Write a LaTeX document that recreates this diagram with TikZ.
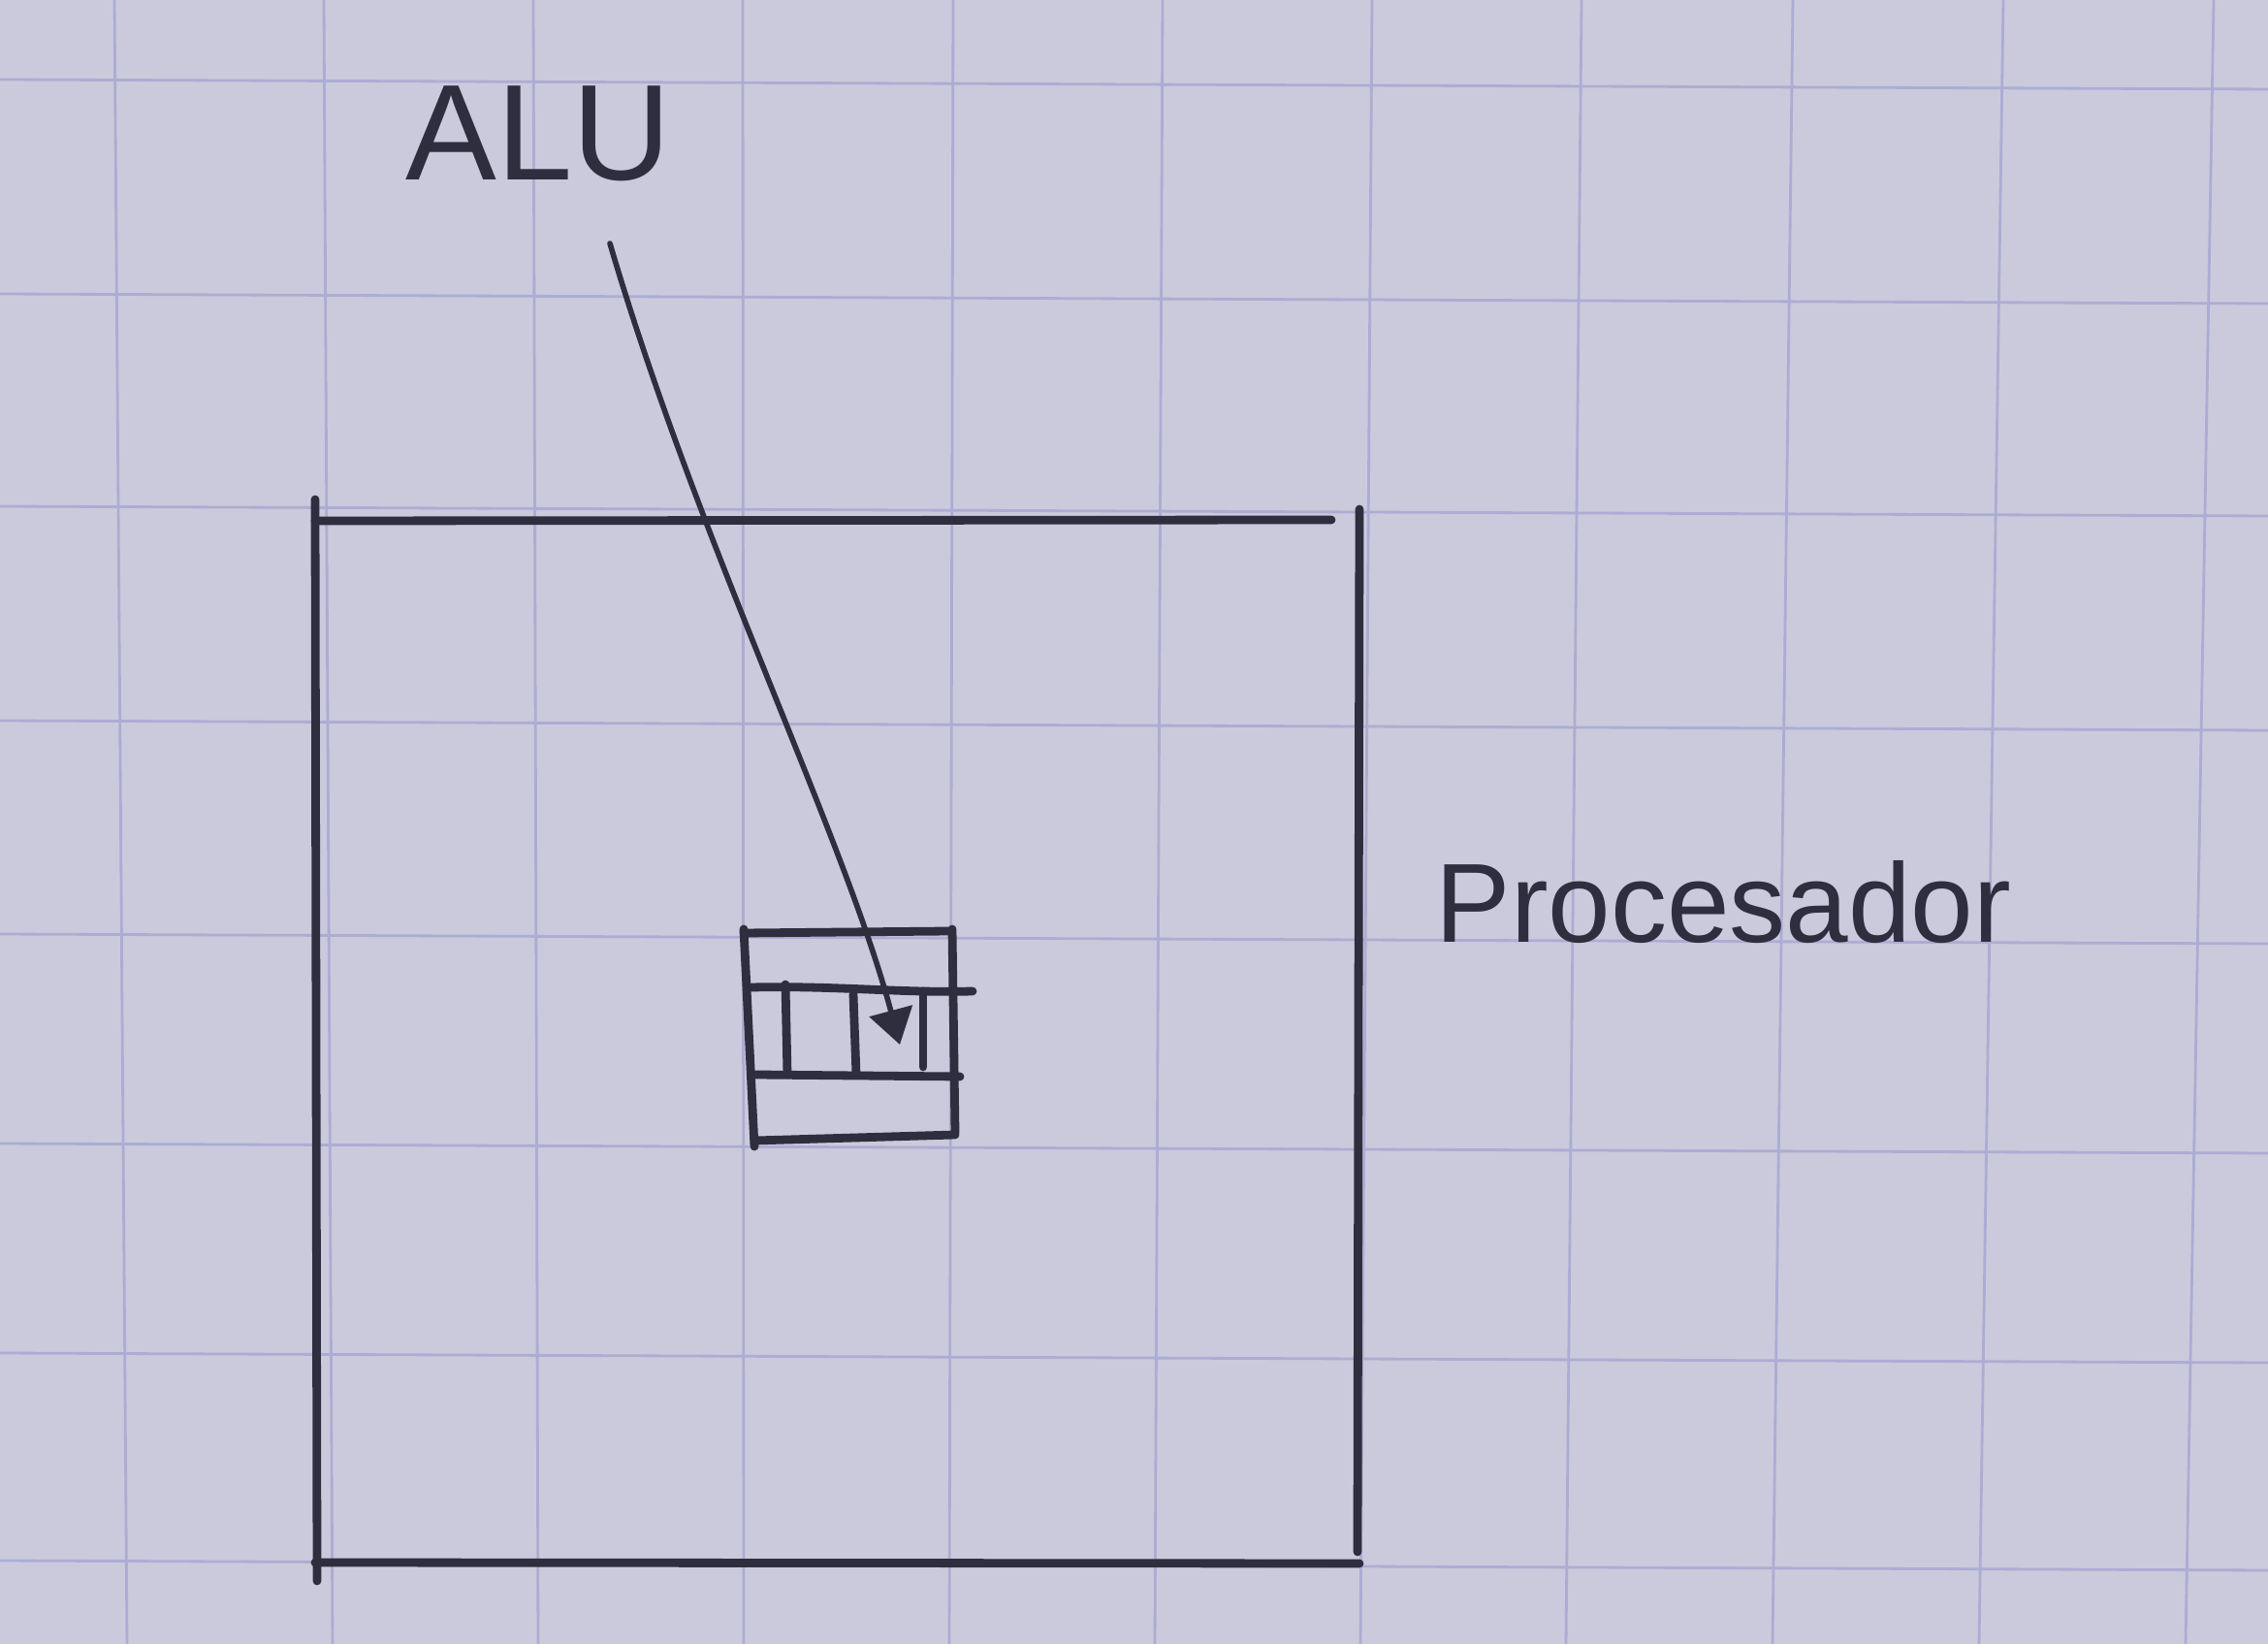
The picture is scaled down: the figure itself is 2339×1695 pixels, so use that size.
\documentclass[tikz,border=0pt]{standalone}
\usepackage{fontspec}
\setmainfont{Liberation Sans}
\usetikzlibrary{arrows.meta}
\definecolor{paper}{RGB}{202,202,220}
\definecolor{gridc}{RGB}{172,172,212}
\definecolor{ink}{RGB}{46,46,62}
\tikzset{
  gridline/.style={draw=gridc, line width=0.8pt},
  bigink/.style={draw=ink, line width=2.5pt, line cap=round},
  smallink/.style={draw=ink, line width=2.5pt, line cap=round},
  pointer/.style={draw=ink, line width=1.6pt, line cap=round, -{Triangle[length=0.36cm,width=0.45cm]}},
  lbl/.style={text=ink, inner sep=0pt}
}
\begin{document}
\begin{tikzpicture}[x=0.01cm, y=-0.01cm]
\useasboundingbox (0,0) rectangle (2339,1695);
\fill[paper] (0,0) rectangle (2339,1695);
% paper grid
\foreach \xb/\t in {131/-13,343/-9,555/-5,767/-1,979/4,1191/8,1403/12,1615/16,1828/21,2041/25,2254/29}
  \draw[gridline] (\xb+\t,0) -- (\xb,1695);
\foreach \yr in {92,313,532,753,973,1189,1405,1619}
  \draw[gridline] (0,\yr-10) -- (2339,\yr);
% processor outline (hand-drawn strokes)
\draw[bigink] (325,515) -- (327,1630);
\draw[bigink] (325,537) -- (1373,536);
\draw[bigink] (1402,525) -- (1400,1600);
\draw[bigink] (325,1611) -- (1402,1612);
% ALU block
\draw[smallink] (767,962) -- (980,960);
\draw[smallink] (767,958) -- (778,1182);
\draw[smallink] (982,958) -- (985,1168);
\draw[smallink] (778,1176) -- (985,1170);
\draw[smallink] (775,1018) .. controls (860,1016) and (930,1024) .. (1003,1022);
\draw[smallink] (780,1108) -- (990,1110);
\draw[smallink] (810,1015) -- (812,1108);
\draw[smallink] (880,1025) -- (883,1108);
\draw[smallink] (952,1022) -- (952,1100);
% labels
\node[lbl, font=\fontsize{40}{44}\selectfont] (alulbl) at (555,138) {ALU};
\node[lbl, font=\fontsize{33}{38}\selectfont, anchor=base west] (proc) at (1480,972) {Procesador};
% arrow
\coordinate (as) at (629,251);
\coordinate (tip) at (928,1077);
\draw[pointer] (as) .. controls (720,560) and (870,860) .. (tip);
\end{tikzpicture}
\end{document}
